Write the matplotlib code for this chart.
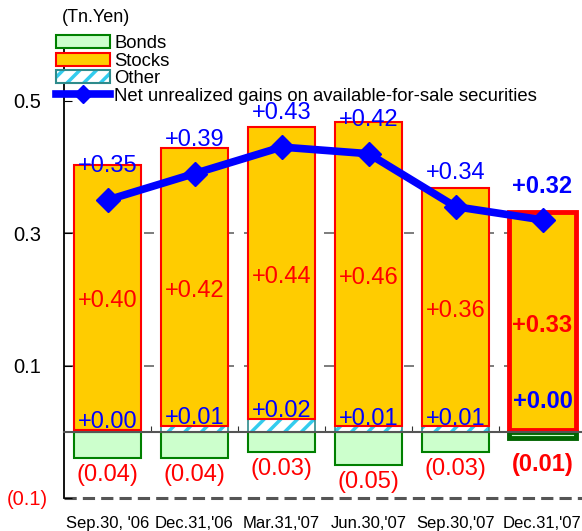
import matplotlib.pyplot as plt
from matplotlib.patches import Patch
from matplotlib.lines import Line2D
from matplotlib.transforms import blended_transform_factory

plt.rcParams["font.family"] = ["Liberation Sans", "DejaVu Sans"]
plt.rcParams["hatch.linewidth"] = 2.5

dates = ["Sep.30, '06", "Dec.31,'06", "Mar.31,'07", "Jun.30,'07", "Sep.30,'07", "Dec.31,'07"]
bonds = [-0.04, -0.04, -0.03, -0.05, -0.03, -0.01]
other = [0.003, 0.009, 0.02, 0.008, 0.008, 0.002]
stocks = [0.40, 0.42, 0.44, 0.46, 0.36, 0.33]
net = [0.35, 0.39, 0.43, 0.42, 0.34, 0.32]
ytick_vals = [0.5, 0.3, 0.1, -0.1]
ytick_labels = ["0.5", "0.3", "0.1", "(0.1)"]

STOCK_FILL, STOCK_EDGE = "#FFCC00", "#FF0000"
BOND_FILL, BOND_EDGE = "#CCFFCC", "#008000"
HATCH_COL, OTHER_EDGE = "#33CCEE", "#2E8B8B"
BLUE = "#0000FF"

fig = plt.figure(figsize=(5.82, 5.31), dpi=100)
ax = fig.add_axes([64 / 582, 33 / 531, 522 / 582, 463.5 / 531])
ax.set_xlim(-0.5, 5.5)
ax.set_ylim(-0.1, 0.6)

x = list(range(len(dates)))
w = 0.77
last = len(dates) - 1

for i in x:
    hl = i == last
    # bonds below zero
    ax.bar(i, bonds[i], w, color=BOND_FILL, edgecolor="#006400" if hl else BOND_EDGE,
           lw=3.5 if hl else 1.5, zorder=2)
    # other (hatched)
    ax.bar(i, other[i], w, color="white", edgecolor=HATCH_COL, hatch="//", lw=0, zorder=2)
    ax.bar(i, other[i], w, fill=False, edgecolor=OTHER_EDGE, lw=1.2, zorder=2)
    # stocks
    ax.bar(i, stocks[i], w, bottom=other[i], color=STOCK_FILL, edgecolor=STOCK_EDGE,
           lw=3.5 if hl else 1.5, zorder=2)

ax.plot(x, net, color=BLUE, lw=5.5, marker="D", ms=12, zorder=4)

for i in x:
    hl = i == last
    fw = "bold" if hl else "normal"
    ax.text(i, net[i] + 0.051, f"+{net[i]:.2f}", color=BLUE, fontsize=17, fontweight=fw,
            ha="center", va="center", zorder=5)
    ax.text(i, other[i] + stocks[i] / 2 - 0.006, f"+{stocks[i]:.2f}", color="red",
            fontsize=17, fontweight=fw, ha="center", va="center", zorder=5)
    oy = 0.045 if hl else other[i] + 0.012
    ax.text(i, oy, f"+{other[i]:.2f}", color=BLUE, fontsize=17, fontweight=fw,
            ha="center", va="center", zorder=5)
    by = -0.05 if hl else bonds[i] - 0.026
    ax.text(i, by, f"({abs(bonds[i]):.2f})", color="red", fontsize=17, fontweight=fw,
            ha="center", va="center", zorder=5)

# grid / reference lines
ax.hlines([0.3, 0.1], -0.5, 5.5, colors="#666666", linestyles=(0, (6, 6)), lw=1.2, zorder=0)
ax.axhline(-0.1, color="#555555", ls=(0, (4, 2)), lw=2.2, zorder=1, clip_on=False)

for s in ["top", "right"]:
    ax.spines[s].set_visible(False)
ax.spines["bottom"].set_position(("data", 0))
ax.spines["bottom"].set_color("#555555")
ax.spines["bottom"].set_linewidth(1.5)
ax.spines["bottom"].set_zorder(3)
ax.spines["left"].set_linewidth(1.3)
ax.set_xticks([0.5, 1.5, 2.5, 3.5, 4.5])
ax.tick_params(axis="x", direction="in", length=4, labelbottom=False, color="#333333")
ax.set_yticks(ytick_vals)
ax.tick_params(axis="y", direction="in", length=6, labelleft=False)

tr = blended_transform_factory(fig.transFigure, ax.transData)
for v, lab in zip(ytick_vals, ytick_labels):
    ax.text(27 / 582, v - 0.003, lab, transform=tr, ha="center", va="center", fontsize=14.5,
            color="red" if lab.startswith("(") else "black")

xt = ax.get_xaxis_transform()
for i, d in zip(x, dates):
    ax.text(i, -0.054, d, transform=xt, ha="center", va="center", fontsize=12, clip_on=False)

fig.text(62 / 582, 1 - 18 / 531, "(Tn.Yen)", fontsize=13, ha="left", va="center")

handles = [
    Patch(facecolor=BOND_FILL, edgecolor=BOND_EDGE, lw=1.5),
    Patch(facecolor=STOCK_FILL, edgecolor=STOCK_EDGE, lw=1.5),
    (Patch(facecolor="white", edgecolor=HATCH_COL, hatch="//", lw=0),
     Patch(fill=False, edgecolor=OTHER_EDGE, lw=1.5)),
    Line2D([], [], color=BLUE, lw=5.5, marker="D", ms=9),
]
labels = ["Bonds", "Stocks", "Other", "Net unrealized gains on available-for-sale securities"]
leg = ax.legend(handles, labels, loc="upper left", bbox_to_anchor=(56 / 582, 1 - 35 / 531),
                bbox_transform=fig.transFigure, frameon=False, fontsize=13.3, borderpad=0,
                borderaxespad=0, labelspacing=0.03, handlelength=2.95, handletextpad=0.2,
                handleheight=0.7)
leg.set_zorder(6)

fig.savefig("out.png", dpi=100)
